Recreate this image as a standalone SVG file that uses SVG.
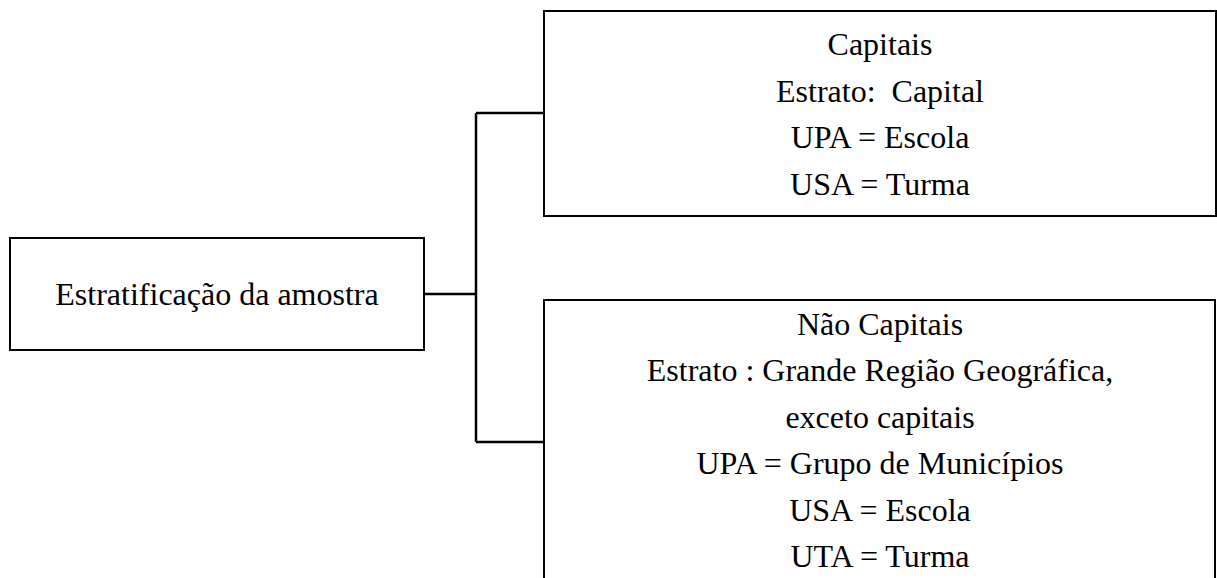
<svg xmlns="http://www.w3.org/2000/svg" width="1217" height="578" viewBox="0 0 1217 578">
<style>
.box{fill:#fff;stroke:#000;stroke-width:2}
.t{font-family:"Liberation Serif","Times New Roman",serif;font-size:32px;fill:#000;text-anchor:middle}
.c{fill:none;stroke:#000;stroke-width:2.5}
</style>
<rect width="1217" height="578" fill="#fff"/>
<g id="connectors">
<path class="c" d="M424 294H476M476 113V442M476 113H544M476 442H544"/>
</g>
<g id="root">
<rect class="box" x="10" y="238" width="414" height="112"/>
<text class="t" x="217" y="305">Estratificação da amostra</text>
</g>
<g id="capitais">
<rect class="box" x="544" y="11" width="672" height="205"/>
<text class="t" x="880" y="55">Capitais</text>
<text class="t" x="880" y="101.5" xml:space="preserve">Estrato:  Capital</text>
<text class="t" x="880" y="148">UPA = Escola</text>
<text class="t" x="880" y="194.5">USA = Turma</text>
</g>
<g id="nao-capitais">
<path class="box" d="M544 590V300H1215V590"/>
<text class="t" x="880" y="334.5">Não Capitais</text>
<text class="t" x="880" y="381">Estrato : Grande Região Geográfica,</text>
<text class="t" x="880" y="427.5">exceto capitais</text>
<text class="t" x="880" y="474">UPA = Grupo de Municípios</text>
<text class="t" x="880" y="520.5">USA = Escola</text>
<text class="t" x="880" y="567">UTA = Turma</text>
</g>
</svg>
